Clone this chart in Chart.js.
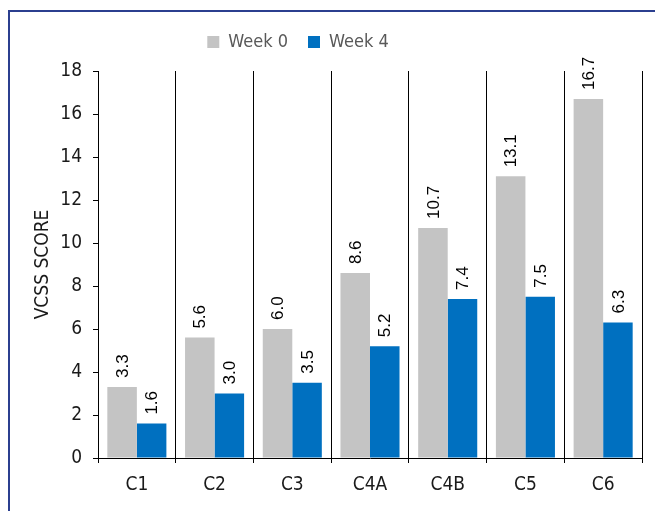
<!DOCTYPE html>
<html>
<head>
<meta charset="utf-8">
<script src="https://cdn.jsdelivr.net/npm/chart.js@4"></script>
<style>
  html, body { margin: 0; padding: 0; background: #fff; }
  body { width: 655px; height: 511px; position: relative; overflow: hidden; }
  .frame { position: absolute; left: 8px; top: 10px; width: 700px; height: 600px; border: 2px solid #2b3f8f; box-sizing: border-box; }
  #chart { position: absolute; left: 0; top: 0; }
</style>
</head>
<body>
<div class="frame"></div>
<canvas id="chart" width="655" height="511"></canvas>
<script>
// ── Data ──────────────────────────────────────────────────────
const categories = ['C1', 'C2', 'C3', 'C4A', 'C4B', 'C5', 'C6'];
const week0 = [3.3, 5.6, 6.0, 8.6, 10.7, 13.1, 16.7];
const week4 = [1.6, 3.0, 3.5, 5.2, 7.4, 7.5, 6.3];
const seriesNames = ['Week 0', 'Week 4'];
const yTicks = [0, 2, 4, 6, 8, 10, 12, 14, 16, 18];

// ── Pick a narrow face if one is installed ────────────────────
function hasFont(name) {
  const c = document.createElement('canvas').getContext('2d');
  const probe = 'mmmmmmwwwwwlli 0123456789';
  c.font = '40px monospace';
  const base = c.measureText(probe).width;
  c.font = `40px "${name}", monospace`;
  return c.measureText(probe).width !== base;
}
const NARROW = ['Liberation Sans Narrow', 'DejaVu Sans Condensed', 'Roboto Condensed', 'Roboto']
  .find(hasFont) || 'sans-serif';
const FAMILY = `"${NARROW}", sans-serif`;

// ── Value labels, rotated above each bar ──────────────────────
const valueLabels = {
  id: 'valueLabels',
  afterDatasetsDraw(chart) {
    const ctx = chart.ctx;
    ctx.save();
    ctx.font = '17px "Liberation Sans", Arial, sans-serif';
    ctx.fillStyle = '#000';
    ctx.textAlign = 'left';
    ctx.textBaseline = 'middle';
    chart.data.datasets.forEach((ds, i) => {
      chart.getDatasetMeta(i).data.forEach((bar, j) => {
        ctx.save();
        ctx.translate(bar.x + 1, bar.y - 9);
        ctx.rotate(-Math.PI / 2);
        ctx.fillText(ds.data[j].toFixed(1), 0, 0);
        ctx.restore();
      });
    });
    ctx.restore();
  }
};

// ── Nudge legend to sit where the original has it ─────────────
const legendShift = {
  id: 'legendShift',
  afterLayout(chart) {
    if (!chart.legend) return;
    chart.legend.left -= 23;
    chart.legend.right -= 23;
    chart.legend.top -= 10;
  }
};

new Chart(document.getElementById('chart'), {
  type: 'bar',
  data: {
    labels: categories,
    datasets: [
      { label: seriesNames[0], data: week0, backgroundColor: '#c4c4c4' },
      { label: seriesNames[1], data: week4, backgroundColor: '#0070c0' }
    ]
  },
  options: {
    responsive: false,
    animation: false,
    events: [],
    layout: { padding: { top: 23, right: 13, bottom: 0, left: 0 } },
    datasets: { bar: { categoryPercentage: 0.76, barPercentage: 1.0 } },
    plugins: {
      tooltip: { enabled: false },
      legend: {
        position: 'top',
        labels: {
          boxWidth: 12,
          boxHeight: 12,
          padding: 20,
          color: '#595959',
          font: { family: FAMILY, size: 18 }
        }
      }
    },
    scales: {
      x: {
        afterFit(scale) { scale.height = 53; },
        grid: { offset: true, color: '#000', lineWidth: 1, tickLength: 5, drawOnChartArea: true },
        border: { color: '#000', width: 1 },
        ticks: { color: '#1a1a1a', padding: 11, font: { family: FAMILY, size: 19 } }
      },
      y: {
        min: 0,
        max: 18,
        afterFit(scale) { scale.width = 98; },
        afterBuildTicks(scale) { scale.ticks = yTicks.map(v => ({ value: v })); },
        grid: { drawOnChartArea: false, color: '#000', tickLength: 5 },
        border: { color: '#000', width: 1 },
        ticks: { color: '#1a1a1a', padding: 11, font: { family: FAMILY, size: 19 } },
        title: {
          display: true,
          text: 'VCSS SCORE',
          color: '#1a1a1a',
          padding: { top: 32, bottom: 0 },
          font: { family: FAMILY, size: 19 }
        }
      }
    }
  },
  plugins: [valueLabels, legendShift]
});
</script>
</body>
</html>
